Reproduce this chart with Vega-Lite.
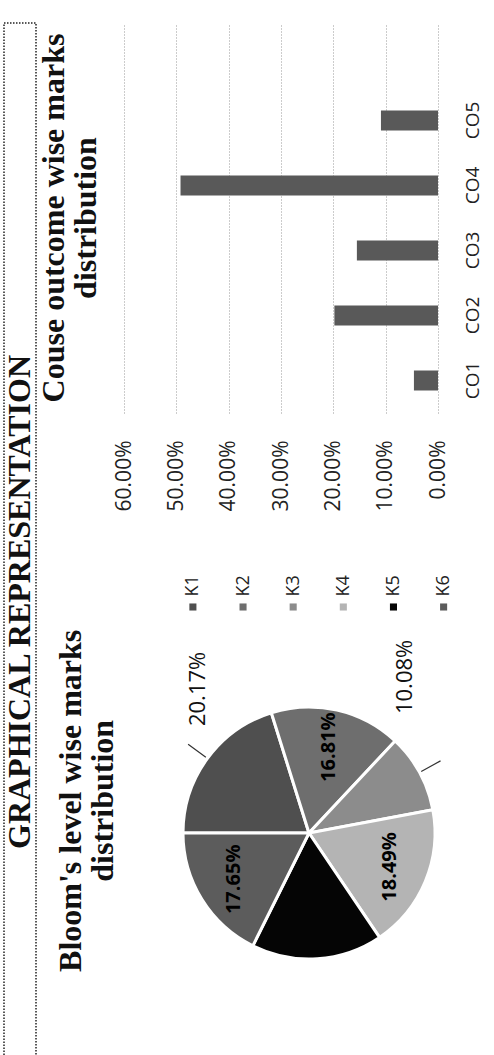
{
  "$schema": "https://vega.github.io/schema/vega-lite/v6.json",
  "padding": {"left": 3, "top": 7, "right": 0, "bottom": 0},
  "background": "white",
  "config": {"view": {"stroke": null}, "font": "Open Sans"},
  "datasets": {
    "header": [{"t": "GRAPHICAL REPRESENTATION"}],
    "co": [
      {"co": "CO1", "share": 0.046},
      {"co": "CO2", "share": 0.198},
      {"co": "CO3", "share": 0.155},
      {"co": "CO4", "share": 0.492},
      {"co": "CO5", "share": 0.109}
    ],
    "bloom": [
      {"k": "K1", "share": 0.2017},
      {"k": "K2", "share": 0.1681},
      {"k": "K3", "share": 0.1008},
      {"k": "K4", "share": 0.1849},
      {"k": "K5", "share": 0.1681},
      {"k": "K6", "share": 0.1765}
    ]
  },
  "spacing": 0,
  "hconcat": [
    {
      "data": {"name": "header"},
      "width": 32,
      "height": 1048,
      "view": {"stroke": "#222", "strokeWidth": 1.5, "strokeDash": [1.5, 1.5]},
      "mark": {"type": "text", "angle": 270, "font": "Liberation Serif", "fontWeight": "bold", "fontSize": 32, "color": "#111", "dx": -55, "align": "center", "baseline": "middle"},
      "encoding": {"text": {"field": "t", "type": "nominal"}}
    },
    {
      "title": {"text": " ", "fontSize": 10, "offset": 6},
      "spacing": 63,
      "vconcat": [
        {
          "data": {"name": "co"},
          "width": 314,
          "height": 390,
          "title": {"text": ["Couse outcome wise marks", "distribution"], "orient": "left", "anchor": "middle", "font": "Liberation Serif", "fontWeight": "bold", "fontSize": 32, "lineHeight": 32, "offset": 10, "color": "#111"},
          "mark": {"type": "bar", "color": "#595959", "size": 20},
          "encoding": {
            "y": {
              "field": "co", "type": "nominal",
              "scale": {"domain": ["CO6", "CO5", "CO4", "CO3", "CO2", "CO1"]},
              "axis": {"orient": "right", "title": null, "labelExpr": "datum.value == 'CO6' ? '' : datum.value", "labelAngle": 270, "labelAlign": "center", "labelBaseline": "top", "labelPadding": 25, "labelFont": "Open Sans", "labelFontSize": 19, "labelColor": "#222", "ticks": false, "domain": false, "grid": false}
            },
            "x": {
              "field": "share", "type": "quantitative",
              "scale": {"domain": [0, 0.6], "reverse": true, "nice": false},
              "axis": {"orient": "bottom", "title": null, "values": [0, 0.1, 0.2, 0.3, 0.4, 0.5, 0.6], "format": ".2%", "labelAngle": 270, "labelAlign": "right", "labelBaseline": "middle", "labelPadding": 27, "labelFont": "Open Sans", "labelFontSize": 21, "labelColor": "#222", "labelFlush": false, "ticks": false, "domain": false, "grid": true, "gridColor": "#999", "gridDash": [1, 2]}
            }
          }
        },
        {
          "title": {"text": ["Bloom's level wise marks", "distribution"], "orient": "left", "anchor": "middle", "font": "Liberation Serif", "fontWeight": "bold", "fontSize": 32, "lineHeight": 32, "offset": -4, "color": "#111"},
          "spacing": 27,
          "vconcat": [
            {
              "data": {"name": "bloom"},
              "width": 351,
              "height": 10,
              "mark": {"type": "square", "size": 50, "opacity": 1},
              "encoding": {
                "x": {"field": "k", "type": "nominal", "scale": {"type": "point", "padding": 1, "align": 0.687}, "axis": {"orient": "top", "title": null, "labelAngle": 270, "labelAlign": "left", "labelBaseline": "middle", "labelPadding": 6, "ticks": false, "domain": false, "labelFontSize": 18, "labelFont": "Open Sans", "labelColor": "#222"}},
                "color": {"field": "k", "type": "nominal", "scale": {"domain": ["K1", "K2", "K3", "K4", "K5", "K6"], "range": ["#4f4f4f", "#6e6e6e", "#8c8c8c", "#b4b4b4", "#050505", "#5c5c5c"]}, "legend": null}
              }
            },
            {
              "data": {"name": "bloom"},
              "width": 370,
              "height": 388,
              "layer": [
                {
                  "mark": {"type": "arc", "outerRadius": 126, "stroke": "white", "strokeWidth": 3},
                  "encoding": {
                    "theta": {"field": "share", "type": "quantitative", "stack": true, "scale": {"range": [4.71238898, 10.99557429]}},
                    "order": {"field": "k", "type": "ordinal", "sort": "ascending"},
                    "color": {"field": "k", "type": "nominal", "scale": {"domain": ["K1", "K2", "K3", "K4", "K5", "K6"], "range": ["#4f4f4f", "#6e6e6e", "#8c8c8c", "#b4b4b4", "#050505", "#5c5c5c"]}, "legend": null}
                  }
                },
                {
                  "mark": {"type": "arc", "innerRadius": 128, "outerRadius": 150, "padAngle": 3, "fill": "transparent", "stroke": "#333", "strokeWidth": 1.2},
                  "encoding": {
                    "theta": {"field": "share", "type": "quantitative", "stack": true},
                    "order": {"field": "k", "type": "ordinal", "sort": "ascending"},
                    "detail": {"field": "k", "type": "nominal"},
                    "strokeOpacity": {"condition": {"test": "datum.k === 'K1' || datum.k === 'K3'", "value": 1}, "value": 0}
                  }
                },
                {
                  "mark": {"type": "text", "radius": 88, "angle": 270, "fontWeight": "bold", "fontSize": 20, "font": "Open Sans", "color": "#000"},
                  "encoding": {
                    "theta": {"field": "share", "type": "quantitative", "stack": true},
                    "order": {"field": "k", "type": "ordinal", "sort": "ascending"},
                    "detail": {"field": "k", "type": "nominal"},
                    "text": {"condition": {"test": "datum.k === 'K1' || datum.k === 'K3' || datum.k === 'K5'", "value": ""}, "field": "share", "type": "quantitative", "format": ".2%"}
                  }
                },
                {
                  "mark": {"type": "text", "radius": 182, "thetaOffset": 0.28, "angle": 270, "fontSize": 22, "font": "Open Sans", "color": "#111"},
                  "encoding": {
                    "theta": {"field": "share", "type": "quantitative", "stack": true},
                    "order": {"field": "k", "type": "ordinal", "sort": "ascending"},
                    "detail": {"field": "k", "type": "nominal"},
                    "text": {"condition": {"test": "datum.k !== 'K1'", "value": ""}, "field": "share", "type": "quantitative", "format": ".2%"}
                  }
                },
                {
                  "mark": {"type": "text", "radius": 183, "thetaOffset": -0.52, "angle": 270, "fontSize": 22, "font": "Open Sans", "color": "#111"},
                  "encoding": {
                    "theta": {"field": "share", "type": "quantitative", "stack": true},
                    "order": {"field": "k", "type": "ordinal", "sort": "ascending"},
                    "detail": {"field": "k", "type": "nominal"},
                    "text": {"condition": {"test": "datum.k !== 'K3'", "value": ""}, "field": "share", "type": "quantitative", "format": ".2%"}
                  }
                }
              ]
            }
          ]
        }
      ]
    }
  ]
}
